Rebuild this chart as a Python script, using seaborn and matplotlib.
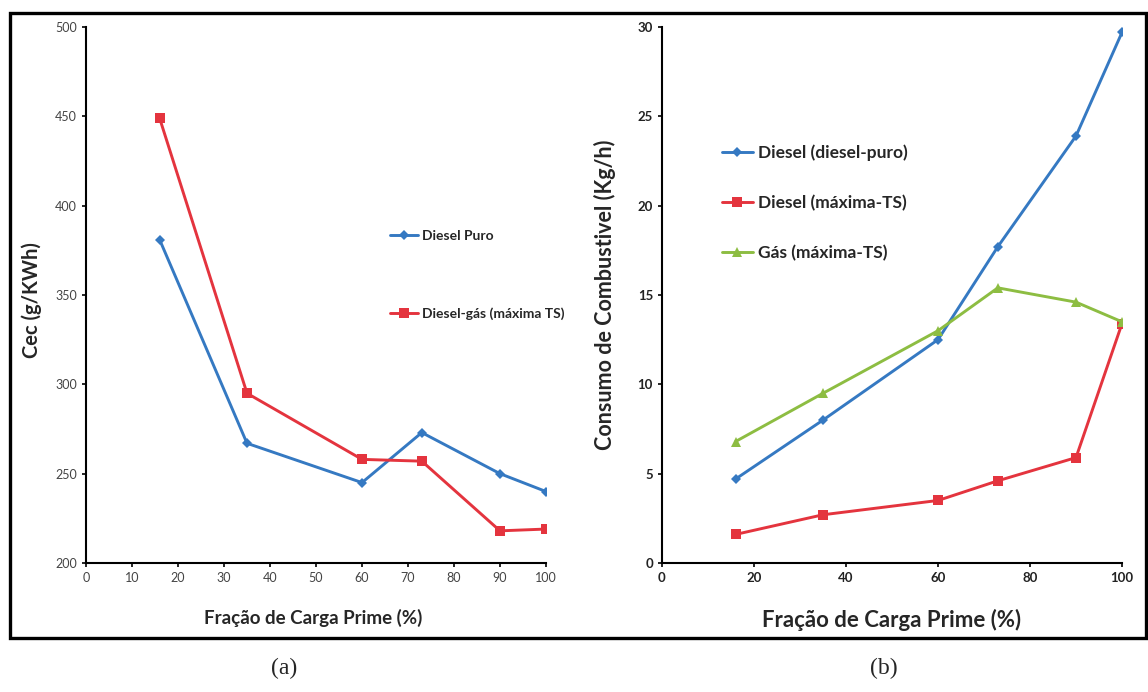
import pandas as pd
import matplotlib
matplotlib.use('Agg')
import matplotlib.pyplot as plt
import seaborn as sns
from matplotlib.patches import Rectangle

# load fractions (%)
carga = [16, 35, 60, 73, 90, 100]

# (a) specific consumption, g/kWh
cec_diesel_puro = [381, 267, 245, 273, 250, 240]
cec_diesel_gas = [449, 295, 258, 257, 218, 219]

# (b) fuel consumption, kg/h
cons_diesel_puro = [4.7, 8.0, 12.5, 17.7, 23.9, 29.7]
cons_diesel_ts = [1.6, 2.7, 3.5, 4.6, 5.9, 13.4]
cons_gas_ts = [6.8, 9.5, 13.0, 15.4, 14.6, 13.5]

BLUE = '#3579C2'
RED = '#E4343E'
GREEN = '#8DBD42'

sns.set_style('ticks')
plt.rcParams['font.family'] = ['Lato', 'DejaVu Sans']

W, H = 1148, 692
fig = plt.figure(figsize=(W / 100, H / 100), dpi=100)


def box(x0, y0, x1, y1):
    # pixel box -> figure fraction [left, bottom, width, height]
    return [x0 / W, 1 - y1 / H, (x1 - x0) / W, (y1 - y0) / H]


ax1 = fig.add_axes(box(86, 27, 546, 563))
ax2 = fig.add_axes(box(662, 27, 1122, 563))

df_a = pd.DataFrame({
    'carga': carga * 2,
    'cec': cec_diesel_puro + cec_diesel_gas,
    'serie': ['Diesel Puro'] * 6 + ['Diesel-gás (máxima TS)'] * 6,
})
df_b = pd.DataFrame({
    'carga': carga * 3,
    'cons': cons_diesel_puro + cons_diesel_ts + cons_gas_ts,
    'serie': ['Diesel (diesel-puro)'] * 6 + ['Diesel (máxima-TS)'] * 6
             + ['Gás (máxima-TS)'] * 6,
})

sns.lineplot(data=df_a, x='carga', y='cec', hue='serie', style='serie',
             palette=[BLUE, RED], markers=['D', 's'], dashes=False,
             linewidth=2.1, markeredgewidth=0, ax=ax1)
sns.lineplot(data=df_b, x='carga', y='cons', hue='serie', style='serie',
             palette=[BLUE, RED, GREEN], markers=['D', 's', '^'], dashes=False,
             linewidth=2.1, markeredgewidth=0, ax=ax2)

# marker sizes differ per series in the original
for ax in (ax1, ax2):
    for ln in ax.lines:
        m = ln.get_marker()
        ln.set_markersize({'D': 5, 's': 7.5, '^': 7.5}.get(m, 7))

# left panel axes
ax1.set_xlim(0, 100)
ax1.set_ylim(200, 500)
ax1.set_xticks(range(0, 101, 10))
ax1.set_yticks(range(200, 501, 50))
ax1.tick_params(labelsize=9, colors='black', labelcolor='#444444',
                length=3, width=1.2)
ax1.set_xlabel('Fração de Carga Prime (%)', fontsize=13.5, fontweight='bold')
ax1.set_ylabel('Cec (g/KWh)', fontsize=14.5, fontweight='bold')
ax1.xaxis.set_label_coords(0.494, -0.085)
ax1.yaxis.set_label_coords(-0.096, 0.49)
leg1 = ax1.legend(loc='center left', bbox_to_anchor=(0.661, 0.537),
                  frameon=False, prop={'weight': 'bold', 'size': 10},
                  borderpad=0, borderaxespad=0, handlelength=2.0,
                  handletextpad=0.3, labelspacing=4.7)

# right panel axes
ax2.set_xlim(0, 100)
ax2.set_ylim(0, 30)
ax2.set_xticks(range(0, 101, 20))
ax2.set_yticks(range(0, 31, 5))
ax2.tick_params(labelsize=9.5, colors='black', labelcolor='#222222',
                length=3, width=1.2)
for t in ax2.get_xticklabels() + ax2.get_yticklabels():
    t.set_fontweight('bold')
ax2.set_xlabel('Fração de Carga Prime (%)', fontsize=16, fontweight='bold')
ax2.set_ylabel('Consumo de Combustivel (Kg/h)', fontsize=15.5,
               fontweight='bold')
ax2.xaxis.set_label_coords(0.5, -0.085)
ax2.yaxis.set_label_coords(-0.1, 0.5)
leg2 = ax2.legend(loc='center left', bbox_to_anchor=(0.130, 0.672),
                  frameon=False, prop={'weight': 'bold', 'size': 12.5},
                  borderpad=0, borderaxespad=0, handlelength=1.8,
                  handletextpad=0.3, labelspacing=1.95)

for leg in (leg1, leg2):
    for h in leg.legend_handles:
        m = h.get_marker()
        h.set_markersize({'D': 5, 's': 7.5, '^': 7.5}.get(m, 7))

for ax in (ax1, ax2):
    sns.despine(ax=ax)
    for s in ('left', 'bottom'):
        ax.spines[s].set_linewidth(1.5)
        ax.spines[s].set_color('black')

# outer frame around both panels
fig.add_artist(Rectangle((10 / W, 1 - 638 / H), (1146 - 10) / W, (638 - 13) / H,
                         transform=fig.transFigure, fill=False,
                         linewidth=2.4, edgecolor='black'))

fig.text(284 / W, 1 - 668 / H, '(a)', ha='center', va='center',
         family='Liberation Serif', fontsize=17)
fig.text(884 / W, 1 - 668 / H, '(b)', ha='center', va='center',
         family='Liberation Serif', fontsize=17)

fig.savefig('out.png', dpi=100, facecolor='white')
